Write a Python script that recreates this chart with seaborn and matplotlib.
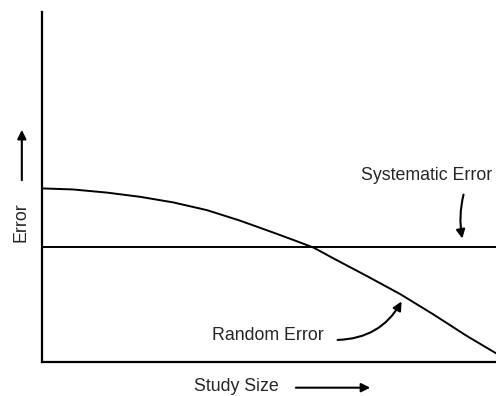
import matplotlib
matplotlib.use("Agg")
import matplotlib.pyplot as plt
import seaborn as sns
import pandas as pd

# Data (x: study size, y: error, both in relative units 0..1)
study_size = [0.0, 0.068, 0.143, 0.216, 0.289, 0.363, 0.436, 0.509, 0.553,
              0.598, 0.642, 0.715, 0.789, 0.862, 0.935, 1.0]
random_error = [0.496, 0.493, 0.484, 0.472, 0.456, 0.434, 0.404, 0.370, 0.349,
                0.327, 0.296, 0.246, 0.194, 0.136, 0.075, 0.025]
systematic_error = 0.329

sns.set_style("white")
plt.rcParams['font.family'] = ['Liberation Sans', 'DejaVu Sans']

df = pd.DataFrame({"size": study_size, "random": random_error})

fig = plt.figure(figsize=(4.96, 3.96), dpi=100)
ax = fig.add_axes([42/496, 34/396, 454/496, 350/396])

sns.lineplot(data=df, x="size", y="random", ax=ax, color="black", lw=1.4)
ax.axhline(systematic_error, color="black", lw=1.4)

ax.set_xlim(0, 1)
ax.set_ylim(0, 1)
ax.set_xticks([])
ax.set_yticks([])
ax.set_xlabel("")
ax.set_ylabel("")
for s in ["top", "right"]:
    ax.spines[s].set_visible(False)
for s in ["left", "bottom"]:
    ax.spines[s].set_color("black")
    ax.spines[s].set_linewidth(1.6)

fs = 12.8
ax.text(0.848, 0.534, "Systematic Error", ha="center", va="center", fontsize=fs)
ax.annotate("", xy=(0.927, 0.345), xytext=(0.930, 0.486),
            arrowprops=dict(arrowstyle="-|>", mutation_scale=13, lw=1.5, color="black",
                            connectionstyle="arc3,rad=0.12"))

ax.text(0.498, 0.077, "Random Error", ha="center", va="center", fontsize=fs)
ax.annotate("", xy=(0.795, 0.18), xytext=(0.645, 0.063),
            arrowprops=dict(arrowstyle="-|>", mutation_scale=13, lw=1.5, color="black",
                            connectionstyle="arc3,rad=0.3"))

fig.text(0.476, 0.023, "Study Size", ha="center", va="center", fontsize=fs)
fig.patches.append(matplotlib.patches.FancyArrowPatch((0.591, 0.021), (0.752, 0.021),
                   transform=fig.transFigure, arrowstyle="-|>", mutation_scale=13,
                   lw=1.5, color="black"))

fig.text(0.042, 0.439, "Error", ha="center", va="center", fontsize=fs, rotation=90)
fig.patches.append(matplotlib.patches.FancyArrowPatch((0.044, 0.538), (0.044, 0.679),
                   transform=fig.transFigure, arrowstyle="-|>", mutation_scale=13,
                   lw=1.5, color="black"))

fig.savefig("out.png", dpi=100)
